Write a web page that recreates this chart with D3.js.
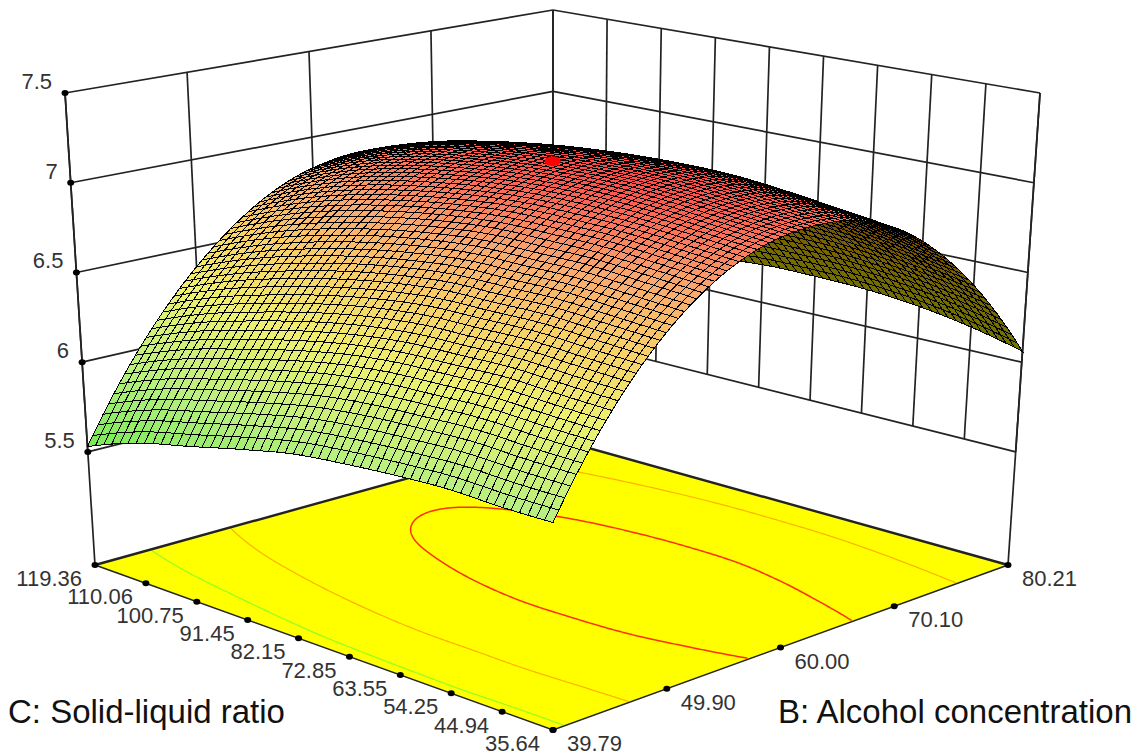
<!DOCTYPE html>
<html><head><meta charset="utf-8">
<script src="https://cdn.jsdelivr.net/npm/d3@7"></script>
<style>html,body{margin:0;background:#fff}svg{display:block}text{font-family:"Liberation Sans",Arial,sans-serif}</style>
</head><body><svg id="c" width="1145" height="755"></svg>
<script>
const cTicks=["35.64","44.94","54.25","63.55","72.85","82.15","91.45","100.75","110.06","119.36"];
const bTicks=["39.79","49.90","60.00","70.10","80.21"];
const zTicks=[5.5,6,6.5,7,7.5];
const zFloor=4.87;
// response heights: one row per C tick, one column per B tick
const heights=[
[5.89,6.71,7.04,6.87,6.06],
[5.89,6.73,7.07,6.91,6.13],
[5.90,6.75,7.10,6.95,6.18],
[5.89,6.75,7.12,6.98,6.21],
[5.87,6.75,7.12,6.985,6.22],
[5.84,6.72,7.105,6.975,6.22],
[5.78,6.67,7.07,6.95,6.19],
[5.71,6.60,7.02,6.905,6.14],
[5.64,6.51,6.94,6.845,6.06],
[5.53,6.39,6.82,6.745,5.95]];
const marker={b:60.00,c:77.50,z:7.15};
const contourLevels=[6,6.5,7];
const contourColors=["#90ff20","#ffb000","#ff3000"];

const svg=d3.select("#c");
const A=d3.scaleLinear().domain([+bTicks[0],+bTicks[4]]).range([0,1]);
const B=d3.scaleLinear().domain([+cTicks[0],+cTicks[9]]).range([0,1]);
const Z=d3.scaleLinear().domain([zFloor,7.5]).range([0,1]);
const floorQ={F:[553,730],R:[1008,565],L:[95,565],K:[553,438]};
const topQ={F:[553,195],R:[1040,93],L:[65,93],K:[553,10]};
const bil=(Q,a,b)=>[0,1].map(i=>(1-a)*(1-b)*Q.F[i]+a*(1-b)*Q.R[i]+(1-a)*b*Q.L[i]+a*b*Q.K[i]);
function proj(a,b,z){const p=bil(floorQ,a,b),q=bil(topQ,a,b);return [p[0]+(q[0]-p[0])*z,p[1]+(q[1]-p[1])*z];}

const spline=(p,t)=>{const n=p.length-1,s=Math.max(0,Math.min(1,t))*n,i=Math.min(n-1,Math.floor(s)),u=s-i;
 const g=k=>k<0?3*p[0]-3*p[1]+p[2]:k>n?3*p[n]-3*p[n-1]+p[n-2]:p[k];
 const p0=g(i-1),p1=g(i),p2=g(i+1),p3=g(i+2);
 return .5*(2*p1+(p2-p0)*u+(2*p0-5*p1+4*p2-p3)*u*u+(3*p1-p0-3*p2+p3)*u*u*u);};
const field=(a,b)=>spline(heights.map(r=>spline(r,a)),b);

const line=d3.line();
const g=svg.append("g");
const ink="#222";
function wallLine(pts,w){g.append("path").attr("d",line(pts)).attr("fill","none").attr("stroke",ink).attr("stroke-width",w||1.7);}
zTicks.forEach(v=>{const z=Z(v);
 wallLine([proj(0,1,z),proj(1,1,z)]);wallLine([proj(1,1,z),proj(1,0,z)]);});
bTicks.forEach(t=>{const a=A(+t);wallLine([proj(a,1,Z(5.5)),proj(a,1,1)]);});
cTicks.forEach(t=>{const b=B(+t);wallLine([proj(1,b,Z(5.5)),proj(1,b,1)]);});
wallLine([proj(0,1,0),proj(0,1,1)]);wallLine([proj(1,0,0),proj(1,0,1)]);
g.append("path").attr("d",line([proj(0,0,0),proj(1,0,0),proj(1,1,0),proj(0,1,0)])+"Z").attr("fill","#ffff00");
const N=240,vals=new Array(N*N);
for(let j=0;j<N;j++)for(let i=0;i<N;i++)vals[j*N+i]=field(i/(N-1),j/(N-1));
const cont=d3.contours().size([N,N]).thresholds(contourLevels)(vals);
cont.forEach((mp,k)=>{mp.coordinates.forEach(poly=>poly.forEach(ring=>{
 let seg=[];const flush=()=>{if(seg.length>1)g.append("path").attr("d",line(seg)).attr("fill","none").attr("stroke",contourColors[k]).attr("stroke-width",k==2?1.5:1.2);seg=[];};
 ring.forEach(([x,y])=>{if(x<=.5||y<=.5||x>=N-.5||y>=N-.5){flush();return;}
  seg.push(proj((x-.5)/(N-1),(y-.5)/(N-1),0));});flush();}));});
wallLine([proj(1,0,0),proj(1,1,0),proj(0,1,0)],2.4);
wallLine([proj(0,1,0),proj(0,0,0),proj(1,0,0)],1.5);
const topColor=d3.scaleLinear().domain([5.5,5.9,6.3,6.6,6.85,7.15]).range(["#6fe850","#b8f080","#eef070","#f8d068","#f8a870","#ff4848"]);
const underColor=d3.scaleLinear().domain([5.9,6.5,7.0]).range(["#6e7c00","#786400","#7a3c00"]);
const na=80,nb=56,sf=d3.select("#c").append("g");
const grid=d3.range(na+1).map(i=>d3.range(nb+1).map(j=>{const a=i/na,b=j/nb,v=field(a,b);return {v,p:proj(a,b,Z(v))};}));
const cells=[];
for(let i=na-1;i>=0;i--)for(let j=nb-1;j>=0;j--){
 const q=[grid[i][j],grid[i+1][j],grid[i+1][j+1],grid[i][j+1]],pts=q.map(d=>d.p),v=d3.mean(q,d=>d.v);
 cells.push({pts,v,under:d3.polygonArea(pts)>0});}
const sign=d3.polygonArea(cells[cells.length-1].pts)>0;
sf.selectAll("path").data(cells).join("path")
 .attr("d",d=>line(d.pts)+"Z")
 .attr("fill",d=>d.under!==sign?underColor(d.v):topColor(d.v))
 .attr("stroke","#000").attr("stroke-width",1).attr("shape-rendering","crispEdges");
const mp=proj(A(marker.b),B(marker.c),Z(marker.z));
svg.append("ellipse").attr("cx",mp[0]).attr("cy",mp[1]).attr("rx",8).attr("ry",5).attr("fill","#ff0000");
const tg=svg.append("g");
const dot=p=>tg.append("ellipse").attr("cx",p[0]).attr("cy",p[1]).attr("rx",3.5).attr("ry",3).attr("fill","#000");
const label=(p,t,dx,dy,anc,size)=>tg.append("text").attr("x",p[0]+dx).attr("y",p[1]+dy).attr("text-anchor",anc).attr("font-size",size||22).attr("fill","#333").text(t);
cTicks.forEach(t=>{const p=proj(0,B(+t),0);dot(p);label(p,t,-13,21,"end");});
bTicks.forEach(t=>{const p=proj(A(+t),0,0);dot(p);label(p,t,14,21,"start");});
zTicks.forEach(v=>{const p=proj(0,1,Z(v));dot(p);label(p,String(v),-13,-4,"end");});
tg.append("text").attr("x",8).attr("y",723).attr("font-size",33).attr("fill","#111").text("C: Solid-liquid ratio");
tg.append("text").attr("x",778).attr("y",723).attr("font-size",33).attr("fill","#111").text("B: Alcohol concentration");
</script></body></html>
